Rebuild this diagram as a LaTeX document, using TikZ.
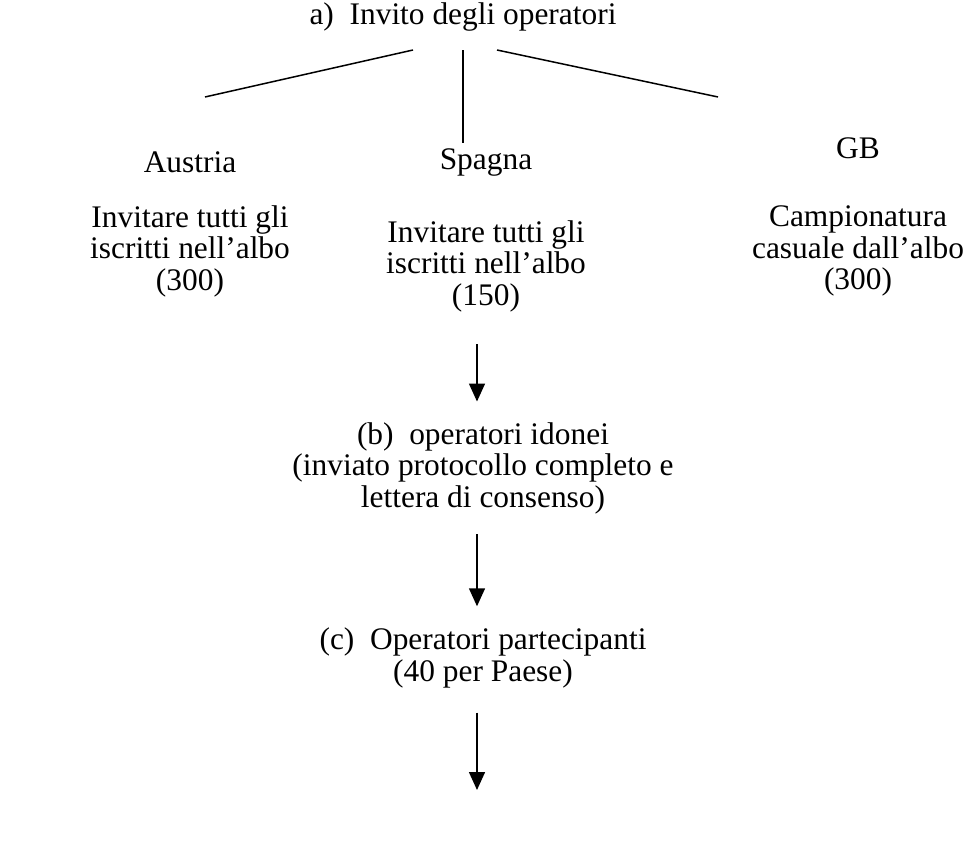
\documentclass[tikz,border=0pt]{standalone}
\usepackage{fontspec}
\setmainfont{Liberation Serif}
\usetikzlibrary{arrows.meta}
\tikzset{
  plain text/.style = {
    align = center,
    inner sep = 0pt,
    font = \fontsize{15.7}{15.75}\selectfont},
  flow arrow/.style = {
    -{Triangle[width = 8pt, length = 9pt]},
    line width = 0.75pt}
}

\begin{document}
\begin{tikzpicture}[x = 0.5pt, y = -0.5pt, line width = 0.75pt]
  \useasboundingbox (0,0) rectangle (969,844);
  \node[plain text] (invito) at (463,17) {a)\ \ Invito degli operatori};
  \node[plain text] (austria) at (190,162) {Austria};
  \node[plain text] (spagna) at (486,162) {Spagna};
  \node[plain text] (gb) at (858,148) {GB};
  \node[plain text] (austriatxt) at (190,251) {Invitare tutti gli \\ iscritti nell'albo \\ (300)};
  \node[plain text] (spagnatxt) at (486,266) {Invitare tutti gli \\ iscritti nell'albo \\ (150)};
  \node[plain text] (gbtxt) at (858,251) {Campionatura \\ casuale dall'albo \\ (300)};
  \node[plain text] (idonei) at (483,468) {(b)\ \ operatori idonei \\ (inviato protocollo completo e \\ lettera di consenso)};
  \node[plain text] (partecipanti) at (483,658) {(c)\ \ Operatori partecipanti \\ (40 per Paese)};
  \coordinate (leftend) at (205,97);
  \coordinate (leftstart) at (413,50);
  \coordinate (rightstart) at (497,50);
  \coordinate (rightend) at (718,97);
  \coordinate (fine) at (477,790);
  \draw (leftstart) -- (leftend);
  \draw (rightstart) -- (rightend);
  \draw (invito.south) ++(0,18) -- ([yshift = 2pt]invito.south |- spagna.north);
  \draw[flow arrow] (spagnatxt.south -| fine) ++(0,32) -- ([yshift = 10pt]idonei.north -| fine);
  \draw[flow arrow] (idonei.south -| fine) ++(0,20) -- ([yshift = 10.5pt]partecipanti.north -| fine);
  \draw[flow arrow] (partecipanti.south -| fine) ++(0,24) -- (fine);
\end{tikzpicture}
\end{document}
